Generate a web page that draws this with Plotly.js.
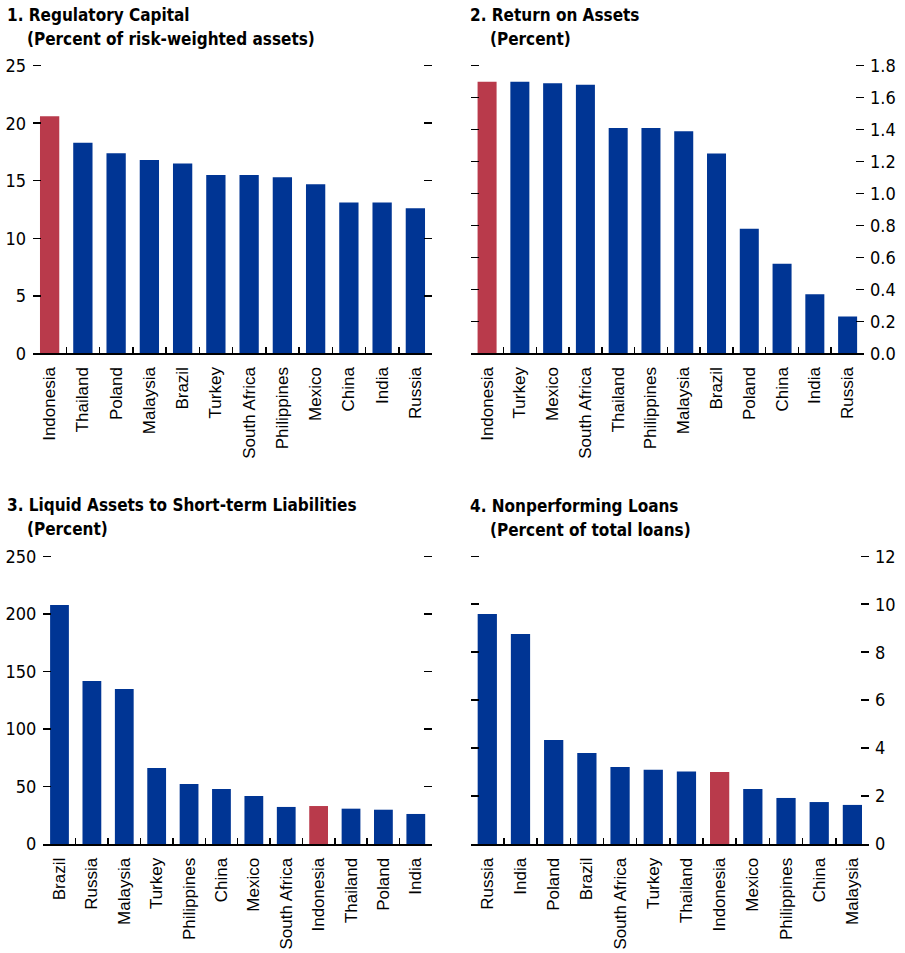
<!DOCTYPE html>
<html>
<head>
<meta charset="utf-8">
<script src="https://cdn.plot.ly/plotly-3.0.1.min.js"></script>
<style>html,body{margin:0;padding:0;background:#fff;}#chart{width:905px;height:953px;}</style>
</head>
<body>
<div id="chart"></div>
<script>
// ---- Data ----
const capCats = ["Indonesia","Thailand","Poland","Malaysia","Brazil","Turkey","South Africa","Philippines","Mexico","China","India","Russia"];
const capVals = [20.6, 18.3, 17.4, 16.8, 16.5, 15.5, 15.5, 15.3, 14.7, 13.1, 13.1, 12.6];

const roaCats = ["Indonesia","Turkey","Mexico","South Africa","Thailand","Philippines","Malaysia","Brazil","Poland","China","India","Russia"];
const roaVals = [1.70, 1.70, 1.69, 1.68, 1.41, 1.41, 1.39, 1.25, 0.78, 0.56, 0.37, 0.23];

const liqCats = ["Brazil","Russia","Malaysia","Turkey","Philippines","China","Mexico","South Africa","Indonesia","Thailand","Poland","India"];
const liqVals = [207.7, 141.7, 134.7, 66.0, 52.1, 47.8, 41.7, 32.2, 33.0, 30.7, 29.8, 26.1];

const nplCats = ["Russia","India","Poland","Brazil","South Africa","Turkey","Thailand","Indonesia","Mexico","Philippines","China","Malaysia"];
const nplVals = [9.59, 8.76, 4.34, 3.80, 3.21, 3.10, 3.02, 3.00, 2.29, 1.92, 1.75, 1.63];

const titles = [
  ["1. Regulatory Capital", "(Percent of risk-weighted assets)"],
  ["2. Return on Assets", "(Percent)"],
  ["3. Liquid Assets to Short-term Liabilities", "(Percent)"],
  ["4. Nonperforming Loans", "(Percent of total loans)"]
];
const highlight = "Indonesia";

// ---- Styling ----
const BLUE = "#003594";
const RED = "#B93A4B";
const NARROW = "'Liberation Sans Narrow', 'Arial Narrow', 'DejaVu Sans Condensed', sans-serif";
const CATFONT = "'Liberation Sans', Arial, sans-serif";
const W = 905, H = 953;
const EPS = 0.008; // small headroom so the top tick is not clipped at the range edge

function bar(cats, vals, xa, ya) {
  return {
    type: "bar", x: cats, y: vals, xaxis: xa, yaxis: ya,
    marker: { color: cats.map(c => c === highlight ? RED : BLUE), line: { width: 0 } },
    hoverinfo: "x+y"
  };
}
// invisible companion trace so the opposite-side tick axis gets drawn
function ghost(cats, vals, xa, ya) {
  return { type: "scatter", x: cats, y: vals, xaxis: xa, yaxis: ya, mode: "none", hoverinfo: "skip", showlegend: false };
}

const data = [
  bar(capCats, capVals, "x", "y"),
  bar(roaCats, roaVals, "x2", "y2"),
  bar(liqCats, liqVals, "x3", "y3"),
  bar(nplCats, nplVals, "x4", "y4"),
  ghost(capCats, capVals, "x", "y5"),
  ghost(roaCats, roaVals, "x2", "y6"),
  ghost(liqCats, liqVals, "x3", "y7"),
  ghost(nplCats, nplVals, "x4", "y8")
];

function px(a, b) { return [a / W, b / W]; }
// top = pixel of range max value, bottom = pixel of zero
function py(top, bottom) {
  const t = top - (bottom - top) * EPS;
  return [(H - bottom) / H, (H - t) / H];
}

function xax(dom, anchor) {
  return {
    domain: dom, anchor: anchor, type: "category",
    showline: true, linecolor: "#000", linewidth: 2,
    ticks: "inside", tickson: "boundaries", ticklen: 6, tickwidth: 1.5, tickcolor: "#000",
    tickangle: -90, tickfont: { family: CATFONT, size: 17, color: "#000" },
    ticklabelstandoff: 5,
    showgrid: false, zeroline: false, automargin: false, fixedrange: true
  };
}
function yax(dom, anchor, max, dtick, side, fmt, labels, overlay) {
  const a = {
    domain: dom, anchor: anchor, range: [0, max * (1 + EPS)], dtick: dtick, tick0: 0, side: side,
    ticks: "inside", ticklen: 8, tickwidth: 1.5, tickcolor: "#000",
    showline: false, showgrid: false, zeroline: false,
    showticklabels: labels,
    tickfont: { family: NARROW, size: 18, color: "#000" },
    ticklabelstandoff: side === "left" ? 6 : 5,
    automargin: false, fixedrange: true
  };
  if (fmt) a.tickformat = fmt;
  if (overlay) a.overlaying = overlay;
  return a;
}

const topRow = py(65.7, 353.3);
const botRow = py(556.3, 844);

const ann = [];
const tpos = [
  [5, 3, 25, 27],
  [468, 3, 488, 27],
  [5, 493, 25, 517],
  [468, 494, 488, 518]
];
titles.forEach((t, i) => {
  const p = tpos[i];
  ann.push({ text: "<b>" + t[0] + "</b>", x: p[0] / W, y: 1 - p[1] / H, xref: "paper", yref: "paper",
    xanchor: "left", yanchor: "top", showarrow: false, font: { family: NARROW, size: 17, color: "#000" } });
  ann.push({ text: "<b>" + t[1] + "</b>", x: p[2] / W, y: 1 - p[3] / H, xref: "paper", yref: "paper",
    xanchor: "left", yanchor: "top", showarrow: false, font: { family: NARROW, size: 17, color: "#000" } });
});

const layout = {
  width: W, height: H,
  margin: { l: 0, r: 0, t: 0, b: 0 },
  paper_bgcolor: "#fff", plot_bgcolor: "#fff",
  showlegend: false, bargap: 0.42,
  xaxis: xax(px(33, 432), "y"),
  yaxis: yax(topRow, "x", 25, 5, "left", null, true),
  yaxis5: yax(topRow, "x", 25, 5, "right", null, false, "y"),
  xaxis2: xax(px(470.7, 864), "y2"),
  yaxis2: yax(topRow, "x2", 1.8, 0.2, "right", ".1f", true),
  yaxis6: yax(topRow, "x2", 1.8, 0.2, "left", ".1f", false, "y2"),
  xaxis3: xax(px(43.3, 432), "y3"),
  yaxis3: yax(botRow, "x3", 250, 50, "left", null, true),
  yaxis7: yax(botRow, "x3", 250, 50, "right", null, false, "y3"),
  xaxis4: xax(px(470.7, 869), "y4"),
  yaxis4: yax(botRow, "x4", 12, 2, "right", null, true),
  yaxis8: yax(botRow, "x4", 12, 2, "left", null, false, "y4"),
  annotations: ann
};

Plotly.newPlot("chart", data, layout, { displayModeBar: false, staticPlot: true });
</script>
</body>
</html>
